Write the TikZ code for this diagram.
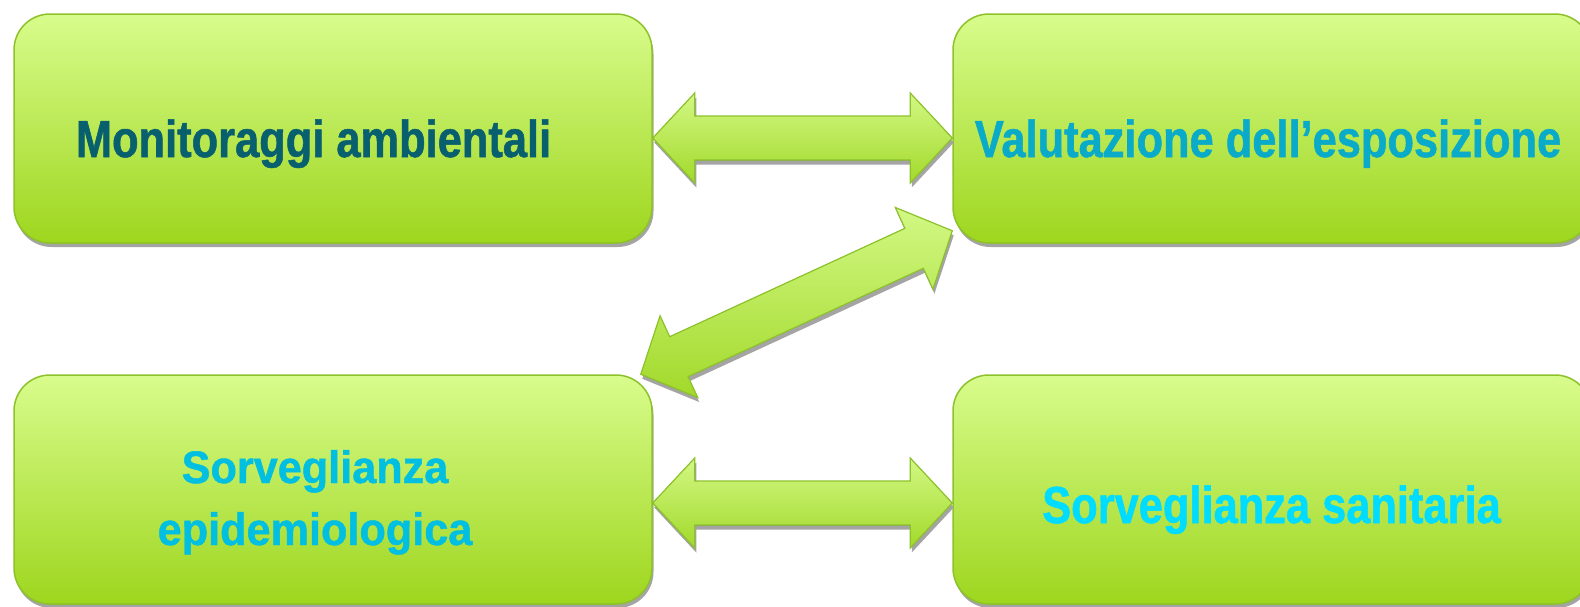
\documentclass[tikz,border=0pt]{standalone}
\usepackage{fontspec}
\usetikzlibrary{calc,shadows}

% condensed bold sans for the box labels
\newfontfamily\labfont{Liberation Sans}[FakeStretch=0.835, FakeBold=1]
\newfontfamily\labfontwide{Liberation Sans}[FakeStretch=0.95, FakeBold=1]

\definecolor{boxtop}{HTML}{D8FC8C}
\definecolor{boxbot}{HTML}{9ED61E}
\definecolor{boxline}{HTML}{8DC22B}
\definecolor{arrtop}{HTML}{D2F884}
\definecolor{arrbot}{HTML}{A2D92A}
\definecolor{shadegray}{HTML}{A4A4A4}
\definecolor{tealdark}{HTML}{08606E}
\definecolor{tealmid}{HTML}{0AABC8}
\definecolor{cyanmid}{HTML}{00BFE0}
\definecolor{cyanbright}{HTML}{00DCFF}

% block double arrow geometry
\newcommand\ahead{42pt}   % head length
\newcommand\ahalf{45pt}   % half width of the head
\newcommand\ashaft{22pt}  % half width of the shaft

% block double arrow between two tip points
\newcommand\blockarrow[2]{%
  \filldraw[blockarrow]
    (#1)
    -- ($(#1)!\ahead!(#2)!\ahalf!90:(#2)$)
    -- ($(#1)!\ahead!(#2)!\ashaft!90:(#2)$)
    -- ($(#2)!\ahead!(#1)!\ashaft!-90:(#1)$)
    -- ($(#2)!\ahead!(#1)!\ahalf!-90:(#1)$)
    -- (#2)
    -- ($(#2)!\ahead!(#1)!\ahalf!90:(#1)$)
    -- ($(#2)!\ahead!(#1)!\ashaft!90:(#1)$)
    -- ($(#1)!\ahead!(#2)!\ashaft!-90:(#2)$)
    -- ($(#1)!\ahead!(#2)!\ahalf!-90:(#2)$)
    -- cycle;}

\tikzset{
  box/.style={draw=boxline, line width=1.5pt, rounded corners=36pt,
    top color=boxtop, bottom color=boxbot,
    minimum width=638pt, minimum height=229pt, inner sep=0pt,
    drop shadow={shadow xshift=1.5pt, shadow yshift=-4pt,
      fill=shadegray, opacity=1}},
  blockarrow/.style={draw=boxline, line width=1.2pt, line join=miter,
    top color=arrtop, bottom color=arrbot,
    drop shadow={shadow xshift=1.5pt, shadow yshift=-4.5pt,
      fill=shadegray, opacity=1}},
  lab/.style={inner sep=0pt, anchor=base,
    font=\labfont\bfseries\fontsize{52}{62}\selectfont},
  labwide/.style={inner sep=0pt, align=center,
    font=\labfontwide\bfseries\fontsize{45.5}{62}\selectfont}
}

\begin{document}
\begin{tikzpicture}[x=1pt, y=-1pt]
  \useasboundingbox (0,0) rectangle (1580,606);

  % the four boxes
  \node[box] (mon) at (333,128.5) {};
  \node[box] (val) at (1272,128.5) {};
  \node[box] (epi) at (333,489.5) {};
  \node[box] (san) at (1272,489.5) {};

  % arrow tips on the box borders
  \coordinate (h1a) at ([yshift=-9.5pt]mon.east);
  \coordinate (h1b) at ([yshift=-9.5pt]val.west);
  \coordinate (h2a) at ([yshift=-13.5pt]epi.east);
  \coordinate (h2b) at ([yshift=-13.5pt]san.west);
  \coordinate (d1) at ([xshift=-12pt]epi.north east);
  \coordinate (d2) at ([yshift=13pt]val.south west);

  % connecting block arrows
  \blockarrow{h1a}{h1b}
  \blockarrow{d1}{d2}
  \blockarrow{h2a}{h2b}

  % labels
  \node[lab, text=tealdark] (t1) at (313.5,157) {Monitoraggi ambientali};
  \node[lab, text=tealmid] (t2) at (1268,157) {Valutazione dell’esposizione};
  \node[labwide, text=cyanmid, anchor=base] (t3) at (315,545)
    {Sorveglianza\\epidemiologica};
  \node[lab, text=cyanbright] (t4) at (1271.5,523) {Sorveglianza sanitaria};
\end{tikzpicture}
\end{document}
